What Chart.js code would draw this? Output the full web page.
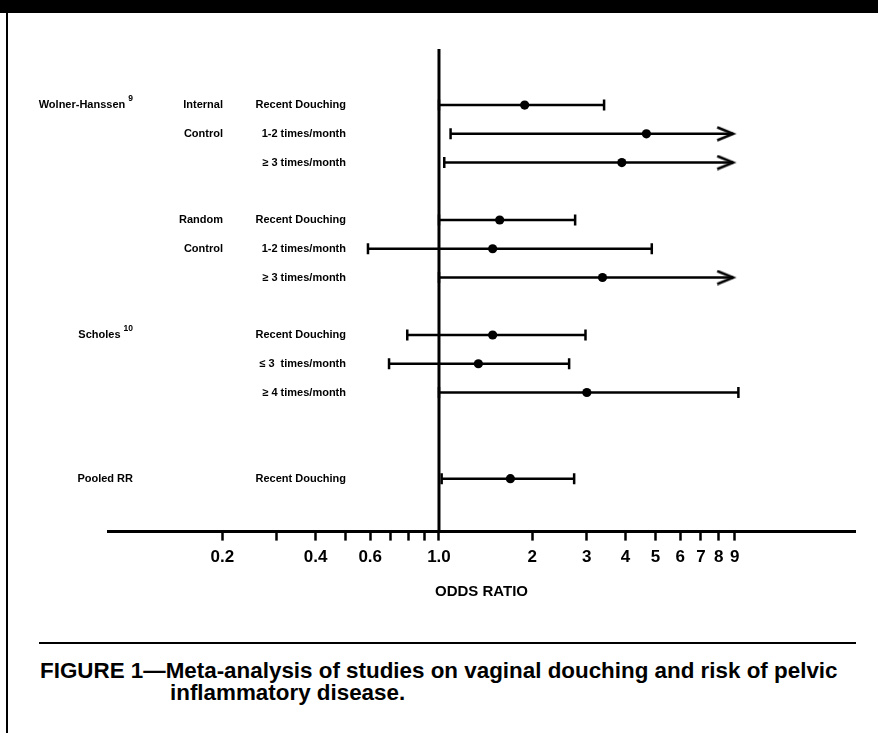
<!DOCTYPE html>
<html>
<head>
<meta charset="utf-8">
<script src="https://cdn.jsdelivr.net/npm/chart.js@4/dist/chart.umd.min.js"></script>
<style>
  body{margin:0;background:#fff;}
  #page{position:relative;width:878px;height:733px;overflow:hidden;background:#fff;font-family:'Liberation Sans',Arial,Helvetica,sans-serif;}
  #chart{position:absolute;left:0;top:0;}
  #topbar{position:absolute;left:0;top:0;width:878px;height:13px;background:#000;}
  #leftrule{position:absolute;left:6px;top:0;width:2px;height:733px;background:#000;}
  #rule{position:absolute;left:39px;top:642px;width:817px;height:2px;background:#000;}
  #caption{position:absolute;left:40px;top:660px;font-weight:bold;font-size:22.4px;line-height:22.3px;color:#000;white-space:nowrap;}
  #caption .l2{padding-left:130px;}
</style>
</head>
<body>
<div id="page">
  <canvas id="chart" width="878" height="620"></canvas>
  <div id="topbar"></div>
  <div id="leftrule"></div>
  <div id="rule"></div>
  <div id="caption">
    <div>FIGURE 1—Meta-analysis of studies on vaginal douching and risk of pelvic</div>
    <div class="l2">inflammatory disease.</div>
  </div>
</div>
<script>
// rows, top to bottom
const STUDY     = ['Wolner-Hanssen','','','','','','Scholes','','','Pooled RR'];
const STUDY_REF = ['9','','','','','','10','','',''];
const DESIGN    = ['Internal','Control','','Random','Control','','','','',''];
const EXPOSURE  = ['Recent Douching','1-2 times/month','≥ 3 times/month',
                   'Recent Douching','1-2 times/month','≥ 3 times/month',
                   'Recent Douching','≤ 3  times/month','≥ 4 times/month',
                   'Recent Douching'];
const GROUP     = [0,0,0,1,1,1,2,2,2,3];

// odds ratios and 95% limits (null upper = runs off the axis, drawn as arrow)
const OR    = [1.89, 4.67, 3.89, 1.57, 1.49, 3.37, 1.49, 1.34, 3.00, 1.70];
const LOWER = [1.00, 1.09, 1.04, 1.00, 0.59, 1.00, 0.79, 0.69, 1.00, 1.02];
const UPPER = [3.41, null, null, 2.75, 4.86, null, 2.97, 2.63, 9.25, 2.73];
const ARROW_END = 8.9;

// x axis ticks
const TICK_VALUES = [0.2,0.3,0.4,0.5,0.6,0.7,0.8,0.9,1,2,3,4,5,6,7,8,9];
const TICK_LABELS = ['0.2','','0.4','','0.6','','','','1.0','2','3','4','5','6','7','8','9'];

// layout
const BLANKS_BEFORE = [0,1,1,2];       // empty rows before each group
const COL_RIGHT = [133, 223, 346];     // right edges of the three label columns
const FONT = "'Liberation Sans', Arial, Helvetica, sans-serif";

let gapSum = 0, lastGroup = -1;
const SLOT = GROUP.map((g, i) => {
  if (g !== lastGroup) { gapSum += BLANKS_BEFORE[g]; lastGroup = g; }
  return i + gapSum;
});

// open arrow head, tip at the centre of the image
function makeArrowHead(){
  const c = document.createElement('canvas');
  c.width = 40; c.height = 16;
  const g = c.getContext('2d');
  g.strokeStyle = '#000'; g.lineWidth = 2.5; g.lineJoin = 'miter';
  g.beginPath();
  g.moveTo(4, 1.5); g.lineTo(20, 8); g.lineTo(4, 14.5);
  g.stroke();
  return c;
}
const arrowHead = makeArrowHead();

const intervalSets = OR.map((v, i) => {
  const open = UPPER[i] == null;
  return {
    type: 'scatter',
    order: 1,
    data: [{x: LOWER[i], y: SLOT[i]}, {x: open ? ARROW_END : UPPER[i], y: SLOT[i]}],
    showLine: true,
    borderColor: '#000',
    borderWidth: 2.5,
    pointStyle: ['line', open ? arrowHead : 'line'],
    pointRotation: [90, open ? 0 : 90],
    pointRadius: 5.5,
    pointBorderWidth: 2.5,
    pointBorderColor: '#000',
    pointBackgroundColor: '#000'
  };
});

const pointSet = {
  type: 'scatter',
  order: 0,
  data: OR.map((v, i) => ({x: v, y: SLOT[i]})),
  pointStyle: 'circle',
  pointRadius: 4.6,
  pointBorderWidth: 0,
  pointBackgroundColor: '#000'
};

// reference line at OR = 1 and the row labels
const forestDecor = {
  id: 'forestDecor',
  beforeDatasetsDraw(chart){
    const {ctx, chartArea, scales} = chart;
    const x1 = scales.x.getPixelForValue(1);
    ctx.save();
    ctx.strokeStyle = '#000';
    ctx.lineWidth = 3;
    ctx.beginPath();
    ctx.moveTo(x1, chartArea.top);
    ctx.lineTo(x1, chartArea.bottom);
    ctx.stroke();
    ctx.restore();
  },
  afterDatasetsDraw(chart){
    const {ctx, scales} = chart;
    ctx.save();
    ctx.fillStyle = '#000';
    ctx.textBaseline = 'middle';
    ctx.textAlign = 'right';
    SLOT.forEach((s, i) => {
      const y = scales.y.getPixelForValue(s);
      ctx.font = 'bold 11px ' + FONT;
      ctx.fillText(EXPOSURE[i], COL_RIGHT[2], y);
      if (DESIGN[i]) ctx.fillText(DESIGN[i], COL_RIGHT[1], y);
      if (STUDY[i]) {
        let right = COL_RIGHT[0];
        if (STUDY_REF[i]) {
          ctx.font = 'bold 8.5px ' + FONT;
          ctx.fillText(STUDY_REF[i], right, y - 6.5);
          right -= ctx.measureText(STUDY_REF[i]).width + 3;
        }
        ctx.font = 'bold 11px ' + FONT;
        ctx.fillText(STUDY[i], right, y);
      }
    });
    ctx.restore();
  }
};

new Chart(document.getElementById('chart'), {
  data: { datasets: [pointSet, ...intervalSets] },
  options: {
    responsive: false,
    animation: false,
    events: [],
    layout: { padding: { left: 108, right: 23, top: 49, bottom: 15 } },
    plugins: { legend: { display: false }, tooltip: { enabled: false } },
    scales: {
      x: {
        type: 'logarithmic',
        position: 'bottom',
        min: 0.0855,
        max: 22,
        bounds: 'data',
        afterBuildTicks: s => { s.ticks = TICK_VALUES.map(v => ({value: v})); },
        ticks: {
          autoSkip: false, maxRotation: 0, minRotation: 0, padding: 7,
          color: '#000',
          font: { family: FONT, size: 17, weight: 'bold' },
          callback: (v, i) => TICK_LABELS[i]
        },
        grid: { drawOnChartArea: false, drawTicks: true, tickLength: 9, tickWidth: 2.5, tickColor: '#000' },
        border: { display: true, color: '#000', width: 3 },
        title: {
          display: true, text: 'ODDS RATIO', color: '#000',
          font: { family: FONT, size: 15, weight: 'bold' },
          padding: { top: 8, bottom: 4 }
        }
      },
      y: {
        type: 'linear',
        display: false,
        reverse: true,
        min: -1.95,
        max: 14.84
      }
    }
  },
  plugins: [forestDecor]
});
</script>
</body>
</html>
